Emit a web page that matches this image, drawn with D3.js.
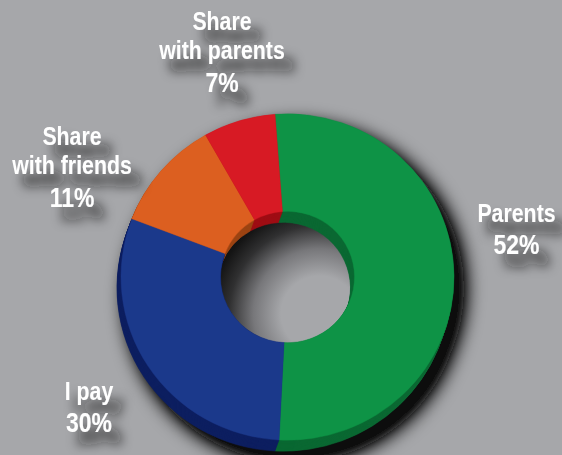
<!DOCTYPE html>
<html>
<head>
<meta charset="utf-8">
<script src="https://cdn.jsdelivr.net/npm/d3@7"></script>
<style>
  html, body { margin: 0; padding: 0; background: #a6a7aa; }
  svg { display: block; }
  .lbl { font-family: "Liberation Sans", Arial, sans-serif; font-weight: bold; fill: #ffffff; }
</style>
</head>
<body>
<script>
// Who pays for the phone
const categories = ["Parents", "I pay", "Share with friends", "Share with parents"];
const values = [52, 30, 11, 7];
const labelLines = [["Parents"], ["I pay"], ["Share", "with friends"], ["Share", "with parents"]];

// Face and side-wall colours per slice
const faceColors = ["#0e9346", "#1b398b", "#dc5f20", "#d71a24"];
const wallColors = ["#0a6832", "#0d1f60", "#9c4312", "#9f0d14"];

// Label anchors: centre x and baseline of the first line
const labelAnchors = [[516.5, 221.5], [89, 399.5], [72, 144.5], [222, 29.5]];

const W = 562, H = 455;
const bg = "#a6a7aa";
const cx = 287.5, cy = 277;
const rOuter = 166.5, rInner = 67;
const squash = 0.98;
const depth = [-4, 11];
const steps = 14;
const narrow = 0.82;

const svg = d3.select("body").append("svg")
  .attr("width", W).attr("height", H);

svg.append("rect").attr("width", W).attr("height", H).attr("fill", bg);

const defs = svg.append("defs");
const ringShadow = defs.append("filter").attr("id", "ringShadow")
  .attr("x", "-30%").attr("y", "-30%").attr("width", "160%").attr("height", "160%");
ringShadow.append("feGaussianBlur").attr("stdDeviation", 10).attr("result", "b");
ringShadow.append("feComponentTransfer").attr("in", "b")
  .append("feFuncA").attr("type", "linear").attr("slope", 1.6);

const textShadow = defs.append("filter").attr("id", "textShadow")
  .attr("x", "-30%").attr("y", "-50%").attr("width", "170%").attr("height", "220%");
textShadow.append("feGaussianBlur").attr("in", "SourceAlpha").attr("stdDeviation", 5.5).attr("result", "b");
textShadow.append("feOffset").attr("in", "b").attr("dx", 10).attr("dy", 13).attr("result", "o");
textShadow.append("feFlood").attr("flood-color", "#161616").attr("flood-opacity", 0.9);
textShadow.append("feComposite").attr("in2", "o").attr("operator", "in").attr("result", "s");
const tm = textShadow.append("feMerge");
tm.append("feMergeNode").attr("in", "s");
tm.append("feMergeNode").attr("in", "SourceGraphic");

// Shading inside the hole: dark toward the upper left, light toward the lower right
const holeGrad = defs.append("radialGradient").attr("id", "holeGrad")
  .attr("cx", 0.74).attr("cy", 0.78).attr("r", 0.9).attr("fx", 0.74).attr("fy", 0.78);
[[0, bg], [0.32, bg], [0.55, "#77777a"], [0.75, "#303031"], [0.9, "#141414"], [1, "#0e0e0e"]].forEach(([o, c]) =>
  holeGrad.append("stop").attr("offset", o).attr("stop-color", c));

const pie = d3.pie().sort(null).value(d => d)
  .startAngle(-0.075).endAngle(2 * Math.PI - 0.075);
const arcs = pie(values);
const arc = d3.arc().innerRadius(rInner).outerRadius(rOuter);

// Drop shadow of the whole ring
const sh = svg.append("g").attr("filter", "url(#ringShadow)");
for (let i = steps; i >= 0; i--) {
  const t = i / steps;
  sh.append("g")
    .attr("transform", `translate(${cx + depth[0] * t + 10},${cy + depth[1] * t + 11}) scale(1,${squash})`)
    .selectAll("path").data(arcs).join("path")
    .attr("d", arc).attr("fill", "#0c0c0c");
}

// Hole floor
svg.append("ellipse")
  .attr("cx", cx).attr("cy", cy)
  .attr("rx", rInner).attr("ry", rInner * squash)
  .attr("fill", "url(#holeGrad)");

// Side walls: stacked copies of the ring, from the bottom layer upward
for (let i = steps; i >= 1; i--) {
  const t = i / steps;
  svg.append("g")
    .attr("transform", `translate(${cx + depth[0] * t},${cy + depth[1] * t}) scale(1,${squash})`)
    .selectAll("path").data(arcs).join("path")
    .attr("d", arc)
    .attr("fill", (d, j) => wallColors[j])
    .attr("stroke", (d, j) => wallColors[j]).attr("stroke-width", 0.6);
}

// Top face
svg.append("g")
  .attr("transform", `translate(${cx},${cy}) scale(1,${squash})`)
  .selectAll("path").data(arcs).join("path")
  .attr("d", arc)
  .attr("fill", (d, j) => faceColors[j])
  .attr("stroke", (d, j) => faceColors[j]).attr("stroke-width", 0.4);

// Labels
const lg = svg.append("g").attr("filter", "url(#textShadow)");
categories.forEach((c, i) => {
  const [x, y] = labelAnchors[i];
  const t = lg.append("g").attr("transform", `translate(${x},${y}) scale(${narrow},1)`)
    .append("text").attr("class", "lbl").attr("text-anchor", "middle")
    .attr("x", 0).attr("y", 0);
  labelLines[i].forEach((line, k) => {
    t.append("tspan").attr("x", 0).attr("dy", k === 0 ? 0 : 30)
      .attr("font-size", 26).text(line);
  });
  t.append("tspan").attr("x", 0).attr("dy", 33)
    .attr("font-size", 28).text(values[i] + "%");
});
</script>
</body>
</html>
